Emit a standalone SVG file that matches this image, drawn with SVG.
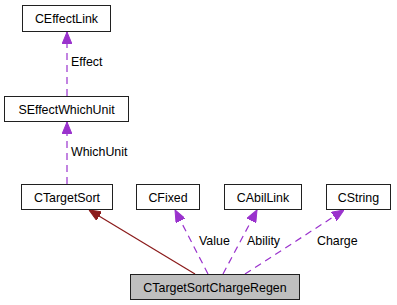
<svg xmlns="http://www.w3.org/2000/svg" width="397" height="305" viewBox="0 0 397 305">
  <style>
    .box { fill: #ffffff; stroke: #202020; stroke-width: 1; }
    .main { fill: #bfbfbf; stroke: #202020; stroke-width: 1; }
    .name { font-family: "Liberation Sans", Arial, sans-serif; font-size: 12.4px; fill: #000; text-anchor: middle; }
    .lbl { font-family: "Liberation Sans", Arial, sans-serif; font-size: 12.4px; fill: #000; }
    .use { stroke: #9a32cd; stroke-width: 1.2; stroke-dasharray: 7,5; fill: none; }
    .inh { stroke: #8b1a1a; stroke-width: 1.2; fill: none; }
  </style>
  <defs>
    <marker id="purpleHead" viewBox="0 0 12 10" refX="12" refY="5" markerWidth="12" markerHeight="10" markerUnits="userSpaceOnUse" orient="auto">
      <path d="M0,0 L12,5 L0,10 z" fill="#9a32cd" stroke="#9a32cd"/>
    </marker>
    <marker id="redHead" viewBox="0 0 12 10" refX="12" refY="5" markerWidth="12" markerHeight="10" markerUnits="userSpaceOnUse" orient="auto">
      <path d="M0,0 L12,5 L0,10 z" fill="#8b1a1a" stroke="#8b1a1a"/>
    </marker>
  </defs>

  <g id="connectors">
    <line class="use" x1="67" y1="96" x2="67" y2="32" marker-end="url(#purpleHead)"/>
    <text class="lbl" x="71" y="66">Effect</text>
    <line class="use" x1="67" y1="184" x2="67" y2="122" marker-end="url(#purpleHead)"/>
    <text class="lbl" x="71" y="156">WhichUnit</text>
    <line class="inh" x1="195" y1="274" x2="89" y2="210" marker-end="url(#redHead)"/>
    <line class="use" x1="208" y1="274" x2="175" y2="210" marker-end="url(#purpleHead)"/>
    <text class="lbl" x="199" y="245">Value</text>
    <line class="use" x1="223" y1="274" x2="257" y2="210" marker-end="url(#purpleHead)"/>
    <text class="lbl" x="247" y="245">Ability</text>
    <line class="use" x1="245" y1="274" x2="344" y2="210" marker-end="url(#purpleHead)"/>
    <text class="lbl" x="317" y="245">Charge</text>
  </g>

  <g id="CEffectLink">
    <rect class="box" x="22.5" y="5.5" width="88" height="26"/>
    <text class="name" x="66.5" y="23">CEffectLink</text>
  </g>
  <g id="SEffectWhichUnit">
    <rect class="box" x="4.5" y="96.5" width="124" height="25"/>
    <text class="name" x="66.5" y="113.5">SEffectWhichUnit</text>
  </g>
  <g id="CTargetSort">
    <rect class="box" x="21.5" y="184.5" width="91" height="25"/>
    <text class="name" x="67" y="201.5">CTargetSort</text>
  </g>
  <g id="CFixed">
    <rect class="box" x="136.5" y="184.5" width="63" height="25"/>
    <text class="name" x="168" y="201.5">CFixed</text>
  </g>
  <g id="CAbilLink">
    <rect class="box" x="224.5" y="184.5" width="77" height="25"/>
    <text class="name" x="263" y="201.5">CAbilLink</text>
  </g>
  <g id="CString">
    <rect class="box" x="326.5" y="184.5" width="64" height="25"/>
    <text class="name" x="358.5" y="201.5">CString</text>
  </g>
  <g id="CTargetSortChargeRegen">
    <rect class="main" x="130.5" y="274.5" width="169" height="25"/>
    <text class="name" x="215" y="291.5">CTargetSortChargeRegen</text>
  </g>
</svg>
